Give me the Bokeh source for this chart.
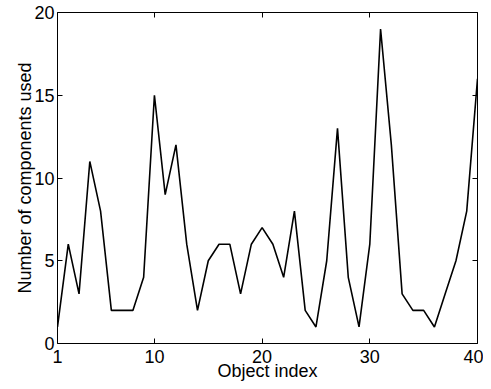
from bokeh.plotting import figure
from bokeh.models import LinearAxis, FixedTicker, Range1d, CustomJSTickFormatter
from bokeh.embed import file_html
from bokeh.resources import INLINE

object_index = list(range(1, 41))
components_used = [1, 6, 3, 11, 8, 2, 2, 2, 4, 15,
                   9, 12, 6, 2, 5, 6, 6, 3, 6, 7,
                   6, 4, 8, 2, 1, 5, 13, 4, 1, 6,
                   19, 12, 3, 2, 2, 1, 3, 5, 8, 16]
x_ticks = [1, 10, 20, 30, 40]
y_ticks = [0, 5, 10, 15, 20]

FONT = "Liberation Sans"
FS = "18px"

p = figure(width=483, height=383, output_backend="svg", toolbar_location=None,
           x_range=Range1d(1, 40), y_range=Range1d(0, 20),
           x_axis_location=None, y_axis_location=None,
           min_border_left=57, min_border_top=12, min_border_right=6, min_border_bottom=38)
p.grid.visible = False
p.outline_line_color = "black"
p.outline_line_width = 1
p.background_fill_color = "white"
p.border_fill_color = "white"

def style(ax, ticks, show_labels):
    ax.ticker = FixedTicker(ticks=ticks)
    ax.major_tick_in = 5
    ax.major_tick_out = 0
    ax.minor_tick_line_color = None
    ax.axis_line_color = None
    ax.major_tick_line_color = "black"
    ax.major_label_text_font = FONT
    ax.major_label_text_color = "black"
    ax.axis_label_text_font = FONT
    ax.axis_label_text_font_style = "normal"
    ax.axis_label_text_color = "black"
    ax.axis_label_text_font_size = FS
    if show_labels:
        ax.major_label_text_font_size = FS
    else:
        ax.formatter = CustomJSTickFormatter(code="return ''")
        ax.major_label_standoff = 0

xb = LinearAxis(axis_label="Object index")
style(xb, x_ticks, True)
xb.major_label_standoff = 6
xb.axis_label_standoff = -5
p.add_layout(xb, "below")
yl = LinearAxis(axis_label="Number of components used")
style(yl, y_ticks, True)
yl.major_label_standoff = 3
yl.axis_label_standoff = -4
p.add_layout(yl, "left")
xt = LinearAxis()
style(xt, x_ticks, False)
p.add_layout(xt, "above")
yr = LinearAxis()
style(yr, y_ticks, False)
p.add_layout(yr, "right")

p.line(object_index, components_used, line_color="black", line_width=1.6)

open("out.html", "w").write(file_html(p, INLINE))
